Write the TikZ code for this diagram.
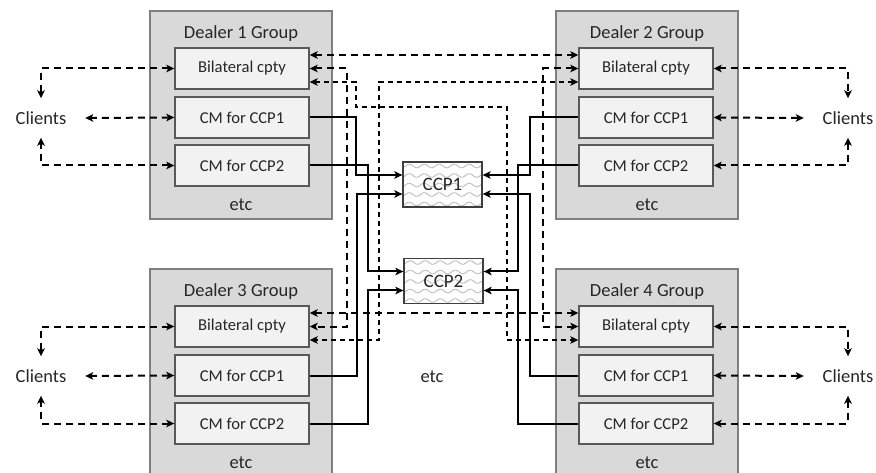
\documentclass[tikz,border=0pt]{standalone}
\usepackage{fontspec}
\setmainfont{Carlito}
\usetikzlibrary{arrows.meta}
\definecolor{dfill}{HTML}{D9D9D9}
\definecolor{dline}{HTML}{7F7F7F}
\definecolor{bfill}{HTML}{F2F2F2}
\definecolor{bline}{HTML}{595959}
\definecolor{txt}{HTML}{262626}
\definecolor{wavec}{HTML}{BDBDBD}
\tikzset{mytip/.tip={Stealth[length=8pt, width=7.5pt, inset=2pt]}}
\begin{document}
\begin{tikzpicture}[x=1pt,y=-1pt,
  every node/.style={text=txt, inner sep=0pt},
  dealer/.style={draw=dline, fill=dfill, line width=1.4pt, minimum width=182pt, minimum height=208pt},
  title/.style={font=\fontsize{18.5}{20}\selectfont},
  inbox/.style={draw=bline, fill=bfill, line width=1.4pt, minimum width=134pt, minimum height=41pt, font=\fontsize{16.6}{18}\selectfont},
  clients/.style={minimum width=88pt, minimum height=39pt, font=\fontsize{18.5}{20}\selectfont},
  ccpbg/.style={fill=white, minimum width=79pt, minimum height=45pt},
  ccp/.style={draw=bline!70!black, line width=1.3pt, minimum width=79pt, minimum height=45pt, font=\fontsize{19}{20}\selectfont},
  wave/.style={wavec, line width=0.9pt},
  dsh/.style={line width=2pt, dash pattern=on 7pt off 5pt, {mytip}-{mytip}},
  fdsh/.style={line width=1.6pt, dash pattern=on 5pt off 4pt, {mytip}-{mytip}},
  solid link/.style={line width=2pt, -{mytip}}
]
\clip (0,0) rectangle (876,473);

% dealer groups
\node[dealer] (d1) at (241,115) {};
\node[dealer] (d2) at (647,115) {};
\node[dealer] (d3) at (241,373) {};
\node[dealer] (d4) at (647,373) {};

\node[title] (t1) at (241,34) {Dealer 1 Group};
\node[title] (t2) at (647,34) {Dealer 2 Group};
\node[title] (t3) at (241,292) {Dealer 3 Group};
\node[title] (t4) at (647,292) {Dealer 4 Group};
\node[title] (e1) at (241,205) {etc};
\node[title] (e2) at (647,205) {etc};
\node[title] (e3) at (241,463) {etc};
\node[title] (e4) at (647,463) {etc};
\node[title] (em) at (432,377) {etc};

% inner boxes
\node[inbox] (b1)  at (242,68.5)  {Bilateral cpty};
\node[inbox] (c11) at (242,117.5) {CM for CCP1};
\node[inbox] (c12) at (242,165.5) {CM for CCP2};
\node[inbox] (b2)  at (646,68.5)  {Bilateral cpty};
\node[inbox] (c21) at (646,117.5) {CM for CCP1};
\node[inbox] (c22) at (646,165.5) {CM for CCP2};
\node[inbox] (b3)  at (242,326.5) {Bilateral cpty};
\node[inbox] (c31) at (242,375.5) {CM for CCP1};
\node[inbox] (c32) at (242,423.5) {CM for CCP2};
\node[inbox] (b4)  at (646,326.5) {Bilateral cpty};
\node[inbox] (c41) at (646,375.5) {CM for CCP1};
\node[inbox] (c42) at (646,423.5) {CM for CCP2};

% clients
\node[clients] (cl1) at (41,118) {Clients};
\node[clients] (cl2) at (848,118) {Clients};
\node[clients] (cl3) at (41,376) {Clients};
\node[clients] (cl4) at (848,376) {Clients};

% CCP backgrounds with wave fill
\node[ccpbg] (g1) at (442.5,184.5) {};
\node[ccpbg] (g2) at (443.5,281) {};
\begin{scope}
  \clip (403,162) rectangle (482,207);
  \foreach \k in {0,1,2,3,4}
    \draw[wave] plot[domain=398:488, samples=120, smooth] (\x, {166+\k*9.5+1.8*sin((\x-398)*24)});
\end{scope}
\begin{scope}
  \clip (404,258.5) rectangle (483,303.5);
  \foreach \k in {0,1,2,3,4}
    \draw[wave] plot[domain=399:489, samples=120, smooth] (\x, {262.5+\k*9.5+1.8*sin((\x-399)*24)});
\end{scope}
\node[ccp] (ccp1) at (442.5,184.5) {CCP1};
\node[ccp] (ccp2) at (443.5,281) {CCP2};

% clients links
\draw[dsh] (b1.west) -| (cl1.north);
\draw[dsh] (c11.west) -- (cl1.east);
\draw[dsh] (c12.west) -| (cl1.south);
\draw[dsh] (b2.east) -| (cl2.north);
\draw[dsh] (c21.east) -- (cl2.west);
\draw[dsh] (c22.east) -| (cl2.south);
\draw[dsh] (b3.west) -| (cl3.north);
\draw[dsh] (c31.west) -- (cl3.east);
\draw[dsh] (c32.west) -| (cl3.south);
\draw[dsh] (b4.east) -| (cl4.north);
\draw[dsh] (c41.east) -- (cl4.west);
\draw[dsh] (c42.east) -| (cl4.south);

% bilateral links
\draw[dsh] ([yshift=13.5pt]b1.east) -- ([yshift=13.5pt]b2.west);
\draw[dsh] ([yshift=13.5pt]b3.east) -- ([yshift=13.5pt]b4.west);
\draw[dsh] (b1.east) -- (347,68.5) -- (347,326.5) -- (b3.east);
\draw[dsh] (b2.west) -- (543,68.5) -- (543,326.5) -- (b4.west);
\draw[fdsh] ([yshift=-13.5pt]b1.east) -- (356,82) -- (356,107) -- (507,107) -- (507,340) -- ([yshift=-13.5pt]b4.west);
\draw[fdsh] ([yshift=-13.5pt]b2.west) -- (379,82) -- (379,340) -- ([yshift=-13.5pt]b3.east);

% CCP links
\draw[solid link] (c11.east) -- (356,117.5) |- ([yshift=9.5pt]ccp1.west);
\draw[solid link] (c31.east) -- (357,375.5) |- ([yshift=-9.5pt]ccp1.west);
\draw[solid link] (c12.east) -- (368,165.5) |- ([yshift=9.5pt]ccp2.west);
\draw[solid link] (c32.east) -- (368,423.5) |- ([yshift=-9.5pt]ccp2.west);
\draw[solid link] (c21.west) -- (530,117.5) |- ([yshift=9.5pt]ccp1.east);
\draw[solid link] (c41.west) -- (530,375.5) |- ([yshift=-9.5pt]ccp1.east);
\draw[solid link] (c22.west) -- (518,165.5) |- ([yshift=9.5pt]ccp2.east);
\draw[solid link] (c42.west) -- (518,423.5) |- ([yshift=-9.5pt]ccp2.east);
\end{tikzpicture}
\end{document}
